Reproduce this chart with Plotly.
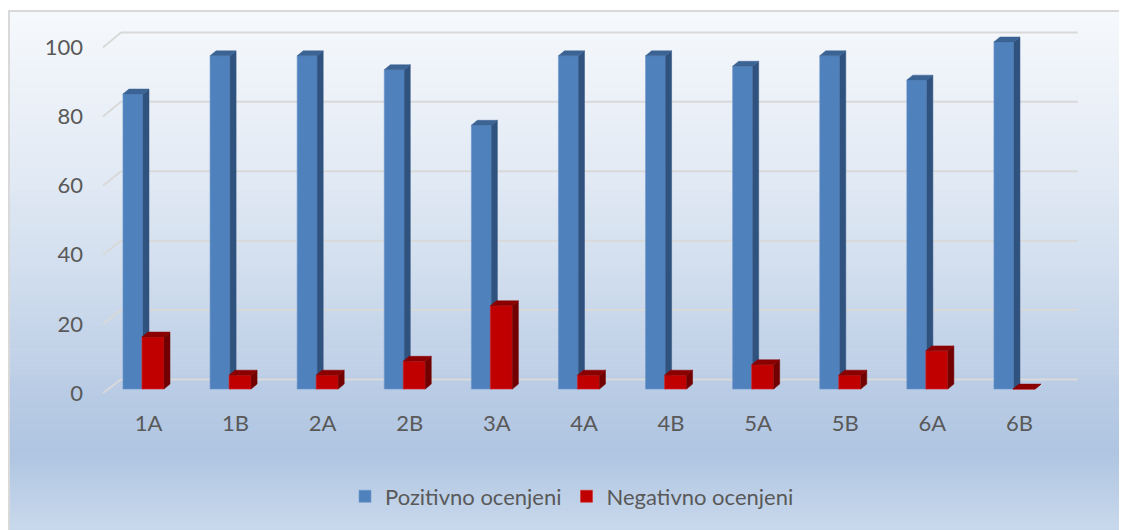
import plotly.graph_objects as go

# ---- data ----
categories = ["1A", "1B", "2A", "2B", "3A", "4A", "4B", "5A", "5B", "6A", "6B"]
pozitivno = [85, 96, 96, 92, 76, 96, 96, 93, 96, 89, 100]
negativno = [15, 4, 4, 8, 24, 4, 4, 7, 4, 11, 0]
y_ticks = [0, 20, 40, 60, 80, 100]
series_names = ["Pozitivno ocenjeni", "Negativno ocenjeni"]

# ---- geometry / style ----
W, H = 1127, 530
OFF = 8                                  # page margin of the html body
L, R, T, B = 95, 1090, 30, 400           # plot area in window px


def px_x(px):
    return (px - L) / (R - L)


def px_y(py):
    return (B - py) / (B - T)


idx = list(range(len(categories)))
X_RANGE = [-0.614, 10.81]
Y_BAR = [-2.579, 103.44]      # scale of bar front faces
Y_LAB = [-1.439, 105.04]      # scale of tick labels / wall
DDX, DDY = 0.069, 1.43        # 3-D depth of the columns
BW, BOFF = 0.23, -0.293
RW, ROFF = 0.253, -0.075

BLUE, BLUE_SIDE, BLUE_TOP = "#4f81bd", "#30527f", "#3b6394"
RED, RED_SIDE, RED_TOP = "#c00000", "#720000", "#8a0000"
TXT = "#595959"
FONT = "Lato"
FS = 22


def faces(vals, off, w):
    sx, sy, tx, ty = [], [], [], []
    for i, v in zip(idx, vals):
        xl = i + off
        xr = xl + w
        sx += [xr, xr + DDX, xr + DDX, xr, xr, None]
        sy += [0, DDY, v + DDY, v, 0, None]
        tx += [xl, xl + DDX, xr + DDX, xr, xl, None]
        ty += [v, v + DDY, v + DDY, v, v, None]
    return sx, sy, tx, ty


fig = go.Figure()

# blue series (subplot x / y2)
bsx, bsy, btx, bty = faces(pozitivno, BOFF, BW)
fig.add_trace(go.Bar(x=idx, y=pozitivno, width=BW, offset=BOFF, name=series_names[0],
                     marker=dict(color=BLUE, line=dict(width=0.6, color="#6f97cc")),
                     yaxis="y2", hoverinfo="skip"))
fig.add_trace(go.Scatter(x=bsx, y=bsy, fill="toself", fillcolor=BLUE_SIDE, mode="lines",
                         line=dict(width=0.5, color=BLUE_SIDE), yaxis="y2",
                         showlegend=False, hoverinfo="skip"))
fig.add_trace(go.Scatter(x=btx, y=bty, fill="toself", fillcolor=BLUE_TOP, mode="lines",
                         line=dict(width=0.5, color=BLUE_TOP), yaxis="y2",
                         showlegend=False, hoverinfo="skip"))

# red series (subplot x / y3, drawn on top)
rsx, rsy, rtx, rty = faces(negativno, ROFF, RW)
fig.add_trace(go.Bar(x=idx, y=negativno, width=RW, offset=ROFF, name=series_names[1],
                     marker=dict(color=RED, line=dict(width=0.6, color="#d83030")),
                     yaxis="y3", hoverinfo="skip"))
fig.add_trace(go.Scatter(x=rsx, y=rsy, fill="toself", fillcolor=RED_SIDE, mode="lines",
                         line=dict(width=0.5, color=RED_SIDE), yaxis="y3",
                         showlegend=False, hoverinfo="skip"))
fig.add_trace(go.Scatter(x=rtx, y=rty, fill="toself", fillcolor=RED_TOP, mode="lines",
                         line=dict(width=0.5, color=RED_TOP), yaxis="y3",
                         showlegend=False, hoverinfo="skip"))

# ---- background gradient ----
stops = [(10, (246, 249, 252)), (120, (233, 239, 247)), (260, (212, 224, 239)),
         (390, (186, 204, 229)), (455, (175, 197, 225)), (530, (200, 216, 236))]


def col_at(py):
    for (p0, c0), (p1, c1) in zip(stops[:-1], stops[1:]):
        if p0 <= py <= p1:
            t = (py - p0) / (p1 - p0)
            c = [round(a + (b - a) * t) for a, b in zip(c0, c1)]
            return "rgb(%d,%d,%d)" % tuple(c)
    return "rgb(%d,%d,%d)" % stops[-1][1]


shapes = []
step = 2
for py in range(10, 532, step):
    shapes.append(dict(type="rect", xref="paper", yref="paper",
                       x0=px_x(9), x1=px_x(1140), y0=px_y(py), y1=px_y(py + step + 0.6),
                       fillcolor=col_at(py + step / 2), line=dict(width=0), layer="below"))
# frame
shapes.append(dict(type="rect", xref="paper", yref="paper",
                   x0=px_x(9), x1=px_x(1145), y0=px_y(11), y1=px_y(545),
                   line=dict(color="#d9d9d9", width=2), fillcolor="rgba(0,0,0,0)", layer="below"))

# wall gridlines (label scale)
X_WALL0, X_WALL1, X_FRONT = -0.316, 10.67, -0.522
for v in y_ticks:
    yb = (13.6 + 3.49 * v) / 3.475
    shapes.append(dict(type="line", xref="x", yref="y", x0=X_WALL0, x1=X_WALL1, y0=yb, y1=yb,
                       line=dict(color="#d9d9d9", width=2), layer="below"))
    shapes.append(dict(type="line", xref="x", yref="y", x0=X_FRONT, x1=X_WALL0, y0=v, y1=yb,
                       line=dict(color="#d9d9d9", width=2), layer="below"))

fig.update_layout(
    width=W - OFF, height=H - OFF,
    margin=dict(l=L - OFF, r=W - R, t=T - OFF, b=H - B, pad=0),
    paper_bgcolor="white", plot_bgcolor="rgba(0,0,0,0)",
    barmode="overlay",
    font=dict(family=FONT, size=FS, color=TXT),
    shapes=shapes,
    xaxis=dict(range=X_RANGE, tickvals=idx, ticktext=categories, showgrid=False,
               zeroline=False, showline=False, ticks="", ticklabelstandoff=10,
               tickfont=dict(family=FONT, size=FS, color=TXT), fixedrange=True),
    yaxis=dict(range=Y_LAB, tickvals=y_ticks, showgrid=False, zeroline=False,
               showline=False, ticks="", ticklabelstandoff=11,
               tickfont=dict(family=FONT, size=FS, color=TXT), fixedrange=True),
    yaxis2=dict(range=Y_BAR, overlaying="y", visible=False, fixedrange=True),
    yaxis3=dict(range=Y_BAR, overlaying="y", visible=False, fixedrange=True),
    legend=dict(orientation="h", x=px_x(572), xanchor="center", y=px_y(499), yanchor="middle",
                font=dict(family=FONT, size=FS, color=TXT), bgcolor="rgba(0,0,0,0)",
                traceorder="normal", itemclick=False, itemdoubleclick=False),
    showlegend=True,
)

fig.write_html("out.html")
